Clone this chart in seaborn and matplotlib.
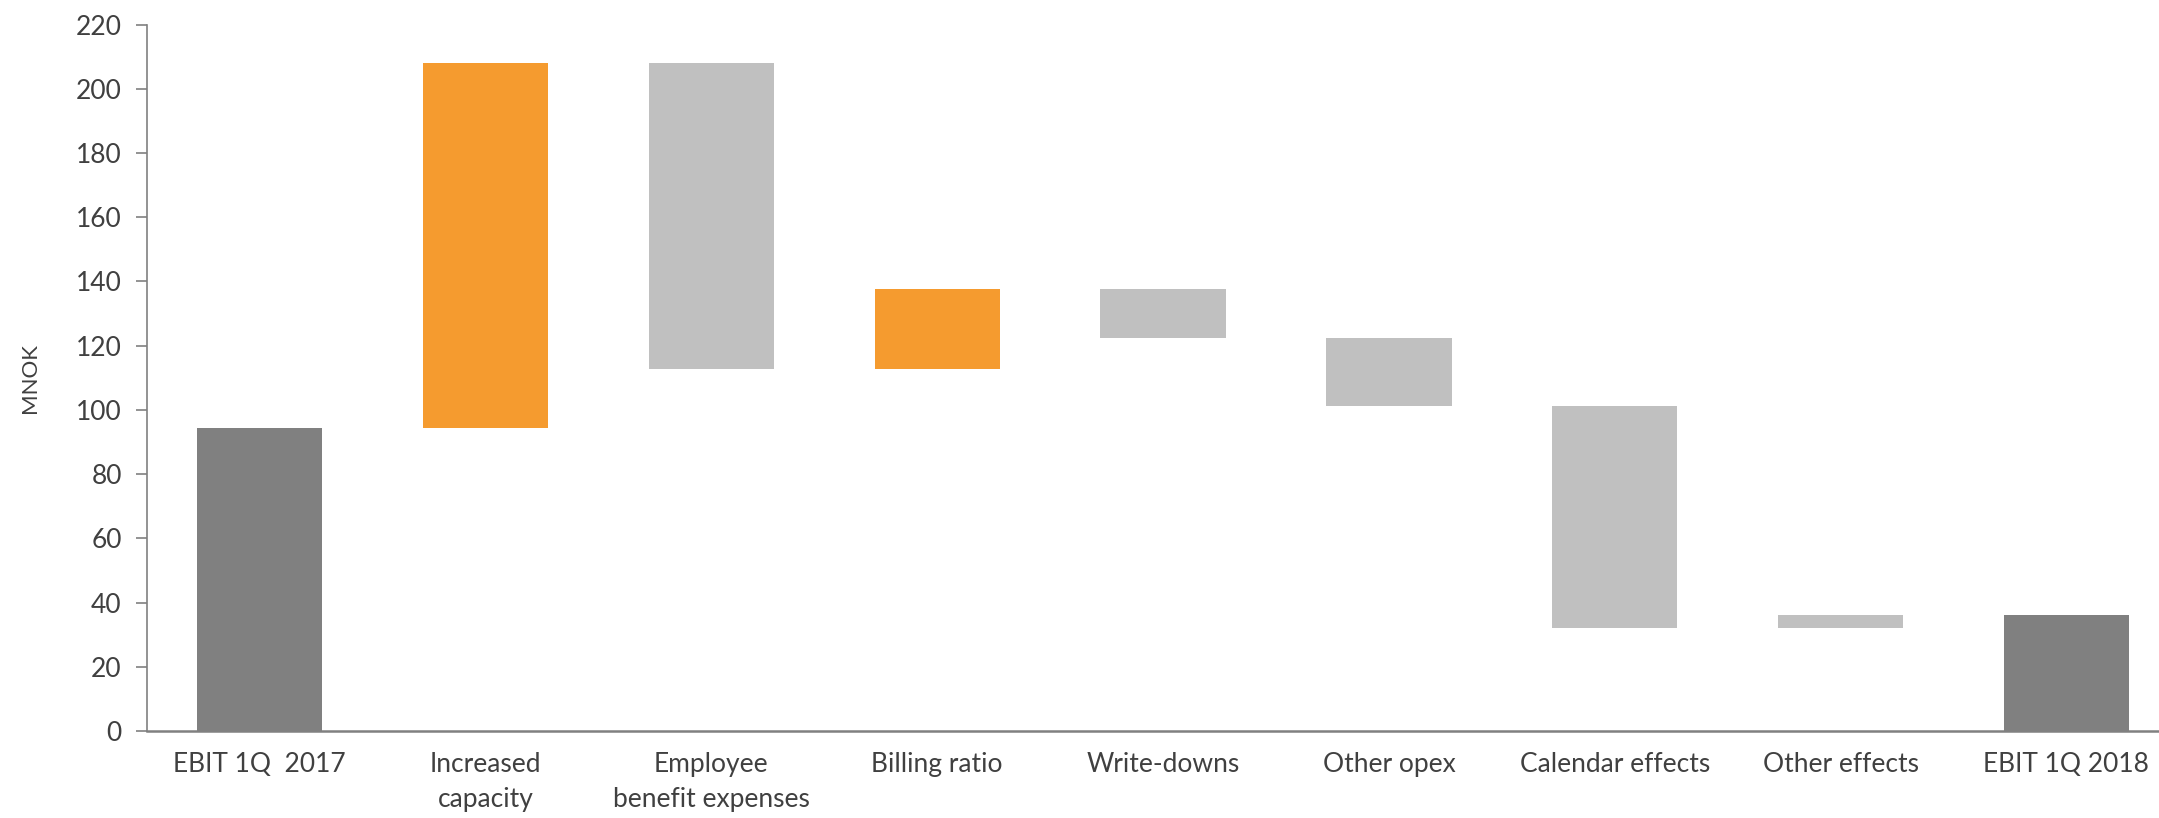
import matplotlib
matplotlib.use("Agg")
import matplotlib.pyplot as plt
import seaborn as sns
import numpy as np
import pandas as pd

# ---- data ----
categories = ["EBIT 1Q  2017", "Increased\ncapacity", "Employee\nbenefit expenses",
              "Billing ratio", "Write-downs", "Other opex", "Calendar effects",
              "Other effects", "EBIT 1Q 2018"]
start_value = 94.4
changes = [113.6, -95.2, 24.8, -15.2, -21.2, -69.0, 3.9]
bar_kind = ["total", "up", "down", "up", "down", "down", "down", "down", "total"]
kind_colors = {"total": "#808080", "up": "#F59B2F", "down": "#C0C0C0"}
y_ticks = list(range(0, 221, 20))

# ---- waterfall geometry from data ----
levels = [start_value]
for c in changes:
    levels.append(levels[-1] + c)
end_value = levels[-1]
bottoms = [0.0]
heights = [start_value]
for i, c in enumerate(changes):
    lo, hi = sorted([levels[i], levels[i + 1]])
    bottoms.append(lo)
    heights.append(hi - lo)
bottoms.append(0.0)
heights.append(end_value)

df = pd.DataFrame({"category": categories, "height": heights})

sns.set_theme(style="white")
plt.rcParams["font.family"] = ["Lato", "DejaVu Sans"]

fig = plt.figure(figsize=(21.59, 8.18), dpi=100)
ax = fig.add_axes([0.068, 0.1064, 0.932, 0.8636])

sns.barplot(data=df, x="category", y="height", order=categories, width=0.555,
            color="#C0C0C0", saturation=1, ax=ax, errorbar=None)

for patch, b, k in zip(ax.patches, bottoms, bar_kind):
    patch.set_y(b)
    patch.set_facecolor(kind_colors[k])
    patch.set_edgecolor("none")

ax.set_ylim(0, 220)
ax.set_xlim(-0.5, 8.41)
ax.set_yticks(y_ticks)
ax.set_yticklabels([str(t) for t in y_ticks])
ax.set_xlabel("")
ax.set_ylabel("MNOK", fontsize=16, color="#404040", labelpad=26)

ax.tick_params(axis="y", labelsize=19, colors="#404040", length=8, width=1.2,
               color="#808080", direction="out", left=True, pad=10)
ax.tick_params(axis="x", labelsize=19, colors="#404040", length=0, pad=15)
for lab in ax.get_xticklabels():
    lab.set_linespacing(1.5)
    lab.set_verticalalignment("top")

for s in ["top", "right"]:
    ax.spines[s].set_visible(False)
ax.spines["left"].set_color("#808080")
ax.spines["left"].set_linewidth(1.2)
ax.spines["bottom"].set_color("#808080")
ax.spines["bottom"].set_linewidth(1.8)
ax.grid(False)

fig.savefig("out.png", dpi=100, facecolor="white")
